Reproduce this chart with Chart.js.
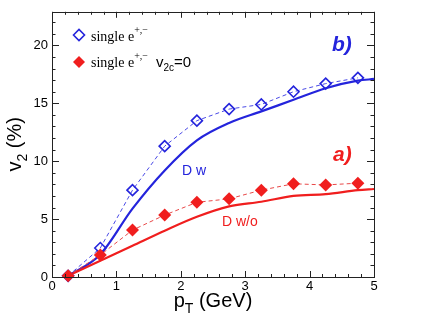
<!DOCTYPE html>
<html>
<head>
<meta charset="utf-8">
<script src="https://cdn.jsdelivr.net/npm/chart.js@4/dist/chart.umd.min.js"></script>
<style>
html,body{margin:0;padding:0;background:#fff;}
#wrap{width:436px;height:327px;}
</style>
</head>
<body>
<div id="wrap"><canvas id="c" width="436" height="327"></canvas></div>
<script>
// ---- data ----
const ptPoints = [0.25, 0.75, 1.25, 1.75, 2.25, 2.75, 3.25, 3.75, 4.25, 4.75];
const singleE = [0.1, 2.5, 7.5, 11.3, 13.5, 14.5, 14.9, 16.0, 16.7, 17.2];
const singleEv2c0 = [0.1, 1.9, 4.05, 5.35, 6.45, 6.75, 7.5, 8.05, 7.95, 8.1];
const ptCurve = [0.25, 0.75, 1.25, 1.75, 2.25, 2.75, 3.25, 3.75, 4.25, 4.75, 5.0];
const dWith = [0.1, 1.95, 5.9, 9.2, 11.8, 13.3, 14.3, 15.3, 16.3, 16.95, 17.1];
const dWithout = [0.1, 1.4, 2.7, 4.0, 5.2, 6.1, 6.5, 7.0, 7.15, 7.5, 7.6];
const xTickLabels = [0, 1, 2, 3, 4, 5];
const yTickLabels = [0, 5, 10, 15, 20];

const BLUE = '#2424dc';
const RED = '#f01e1e';

const pairs = (xs, ys) => xs.map((x, i) => ({x: x, y: ys[i]}));

function richText(ctx, segs, x, y, align) {
  let total = 0;
  segs.forEach(s => { ctx.font = s.font; s.w = ctx.measureText(s.t).width; total += s.w + (s.gap || 0); });
  let cx = align === 'center' ? x - total / 2 : x;
  segs.forEach(s => {
    ctx.font = s.font;
    ctx.fillStyle = s.color || '#000';
    cx += (s.gap || 0);
    ctx.fillText(s.t, cx, y + (s.dy || 0));
    cx += s.w;
  });
}

function diamond(ctx, x, y, r, fill, stroke, lw) {
  ctx.beginPath();
  ctx.moveTo(x - r, y); ctx.lineTo(x, y - r); ctx.lineTo(x + r, y); ctx.lineTo(x, y + r);
  ctx.closePath();
  if (fill) { ctx.fillStyle = fill; ctx.fill(); }
  if (stroke) { ctx.strokeStyle = stroke; ctx.lineWidth = lw; ctx.stroke(); }
}

const decor = {
  id: 'decor',
  afterDraw(chart) {
    const ctx = chart.ctx;
    const a = chart.chartArea;
    const xs = chart.scales.x, ys = chart.scales.y;
    ctx.save();
    // frame
    ctx.strokeStyle = '#222';
    ctx.lineWidth = 1;
    ctx.strokeRect(Math.round(a.left) + 0.5, Math.round(a.top) + 0.5, Math.round(a.right - a.left), Math.round(a.bottom - a.top));
    // inward ticks
    ctx.beginPath();
    for (let i = 0; i <= 25; i++) {
      const v = i * 0.2;
      const px = Math.round(xs.getPixelForValue(v)) + 0.5;
      const len = (i % 5 === 0) ? 6 : 3;
      ctx.moveTo(px, a.bottom); ctx.lineTo(px, a.bottom - len);
      ctx.moveTo(px, a.top); ctx.lineTo(px, a.top + len);
    }
    for (let v = 0; v <= 22; v++) {
      const py = Math.round(ys.getPixelForValue(v)) + 0.5;
      const len = (v % 5 === 0) ? 7 : 3.5;
      ctx.moveTo(a.left, py); ctx.lineTo(a.left + len, py);
      ctx.moveTo(a.right, py); ctx.lineTo(a.right - len, py);
    }
    ctx.stroke();

    ctx.textBaseline = 'alphabetic';
    const sans = '"Liberation Sans", Arial, sans-serif';
    const serif = '"Liberation Serif", "Times New Roman", serif';
    // x title
    richText(ctx, [
      {t: 'p', font: '20px ' + sans},
      {t: 'T', font: '14px ' + sans, dy: 6},
      {t: ' (GeV)', font: '20px ' + sans}
    ], (a.left + a.right) / 2, 307, 'center');
    // y title
    ctx.save();
    ctx.translate(21, (a.top + a.bottom) / 2);
    ctx.rotate(-Math.PI / 2);
    richText(ctx, [
      {t: 'v', font: '20px ' + sans},
      {t: '2', font: '14px ' + sans, dy: 6},
      {t: ' (%)', font: '20px ' + sans}
    ], 0, 0, 'center');
    ctx.restore();

    // panel labels
    ctx.font = 'italic bold 21px ' + sans;
    ctx.fillStyle = BLUE;
    ctx.fillText('b)', 332, 51);
    ctx.fillStyle = RED;
    ctx.fillText('a)', 333, 161);
    ctx.font = '14px ' + sans;
    ctx.fillStyle = BLUE;
    ctx.fillText('D w', 182, 175);
    ctx.fillStyle = RED;
    ctx.fillText('D w/o', 222, 226);

    // legend
    diamond(ctx, 79, 35, 5.5, null, BLUE, 1.6);
    diamond(ctx, 79, 62, 6, RED, null, 0);
    richText(ctx, [
      {t: 'single e', font: '14px ' + serif},
      {t: '+,\u2212', font: '10px ' + serif, dy: -8}
    ], 91, 41, 'left');
    richText(ctx, [
      {t: 'single e', font: '14px ' + serif},
      {t: '+,\u2212', font: '10px ' + serif, dy: -8},
      {t: 'v', font: '15px ' + sans, gap: 8},
      {t: '2c', font: '10px ' + sans, dy: 4},
      {t: '=0', font: '15px ' + sans}
    ], 91, 67, 'left');
    ctx.restore();
  }
};

new Chart(document.getElementById('c'), {
  type: 'line',
  data: {
    datasets: [
      {
        label: 'D w',
        data: pairs(ptCurve, dWith),
        borderColor: BLUE, borderWidth: 2.2, pointRadius: 0,
        cubicInterpolationMode: 'monotone', fill: false, order: 4
      },
      {
        label: 'D w/o',
        data: pairs(ptCurve, dWithout),
        borderColor: RED, borderWidth: 2.2, pointRadius: 0,
        cubicInterpolationMode: 'monotone', fill: false, order: 3
      },
      {
        label: 'single e+,-',
        data: pairs(ptPoints, singleE),
        borderColor: '#4848e6', borderWidth: 1, borderDash: [4, 3],
        pointStyle: 'rectRot', pointRadius: 5.5, pointBorderWidth: 1.6,
        pointBorderColor: BLUE, pointBackgroundColor: 'rgba(255,255,255,0)',
        fill: false, clip: false, order: 2
      },
      {
        label: 'single e+,- v2c=0',
        data: pairs(ptPoints, singleEv2c0),
        borderColor: '#e84848', borderWidth: 1, borderDash: [4, 3],
        pointStyle: 'rectRot', pointRadius: 6.5, pointBorderWidth: 0,
        pointBackgroundColor: RED, pointBorderColor: RED,
        fill: false, clip: false, order: 1
      }
    ]
  },
  options: {
    responsive: false,
    animation: false,
    events: [],
    layout: {padding: {left: 0, right: 62, top: 2, bottom: 0}},
    plugins: {legend: {display: false}, tooltip: {enabled: false}, title: {display: false}},
    scales: {
      x: {
        type: 'linear', min: 0, max: 5,
        grid: {display: false, drawTicks: false},
        border: {display: false},
        ticks: {
          stepSize: 1, padding: 2, color: '#000', maxRotation: 0,
          font: {family: '"Liberation Sans", Arial, sans-serif', size: 13},
          callback: v => xTickLabels.includes(v) ? String(v) : ''
        },
        afterFit: s => { s.height = 50; }
      },
      y: {
        type: 'linear', min: 0, max: 22.9,
        grid: {display: false, drawTicks: false},
        border: {display: false},
        ticks: {
          stepSize: 5, includeBounds: false, padding: 4, color: '#000',
          font: {family: '"Liberation Sans", Arial, sans-serif', size: 13},
          callback: v => yTickLabels.includes(v) ? String(v) : ''
        },
        afterFit: s => { s.width = 52; }
      }
    }
  },
  plugins: [decor]
});
</script>
</body>
</html>
